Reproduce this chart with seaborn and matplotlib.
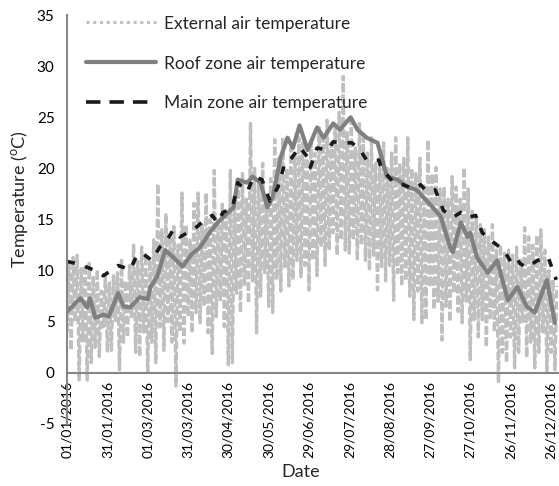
import numpy as np
import pandas as pd
import matplotlib
matplotlib.use('Agg')
import matplotlib.pyplot as plt
import matplotlib.dates as mdates
from matplotlib.lines import Line2D
import seaborn as sns

sns.set_style('white')
plt.rcParams['font.family'] = ['Lato', 'DejaVu Sans']
plt.rcParams['axes.unicode_minus'] = False

# ---- data, day of year 2016 ----
# external air: low / high per 3-day step (day 0, 3, 6, ...)
ext_low = [4.0, 2.2, 5.0, -0.7, 3.0, -0.7, 1.0, 2.5, 1.6, 4.5,
           2.0, 2.2, 5.0, 0.3, 3.0, 3.5, 5.5, 2.0, 1.6, 4.0,
           0.1, 3.0, 1.0, 4.5, 2.2, 5.0, 3.0, -1.3, 4.0, 2.9,
           5.5, 3.9, 5.9, 4.9, 6.5, 3.9, 1.9, 5.5, 7.0, 4.5,
           0.8, 1.0, 7.8, 5.9, 8.5, 6.8, 9.0, 3.9, 7.5, 9.8,
           6.5, 5.9, 9.1, 8.0, 10.4, 8.5, 9.1, 11.0, 9.4, 10.5,
           8.1, 11.0, 9.5, 12.3, 10.5, 12.0, 13.7, 11.5, 13.0, 12.0,
           11.7, 13.0, 11.0, 12.5, 11.0, 10.0, 11.5, 8.1, 10.4, 9.0,
           10.5, 7.1, 9.8, 8.5, 9.0, 7.5, 5.2, 8.0, 4.9, 5.2,
           8.4, 6.2, 7.0, 3.2, 6.5, 5.0, 7.8, 6.0, 4.9, 7.0,
           1.3, 5.2, 3.5, 5.2, 2.5, 5.2, 4.0, -1.0, 2.0, 1.0,
           3.5, 0.5, 2.0, 5.0, 1.5, 3.0, 0.5, 2.0, 4.0, 0.0,
           2.0, 0.3]
ext_high = [10.8, 11.3, 11.5, 10.2, 10.6, 10.7, 9.5, 10.1, 8.0, 9.6,
            8.8, 9.5, 9.8, 11.0, 9.0, 10.5, 12.5, 10.9, 12.3, 11.5,
            11.0, 13.0, 18.5, 14.0, 15.6, 13.5, 14.3, 12.5, 17.6, 14.5,
            13.0, 16.6, 17.6, 14.5, 17.6, 15.0, 19.8, 15.0, 16.5, 15.5,
            19.8, 16.6, 18.0, 19.5, 17.0, 24.4, 20.0, 18.8, 20.5, 17.0,
            19.0, 22.8, 21.0, 23.0, 20.0, 22.0, 21.5, 23.0, 22.5, 21.0,
            22.5, 21.5, 24.0, 23.0, 24.7, 22.5, 24.0, 25.5, 29.0, 23.5,
            24.7, 22.0, 24.4, 23.0, 21.5, 23.0, 20.5, 21.0, 22.5, 20.0,
            21.5, 23.0, 20.5, 21.0, 23.0, 20.0, 19.5, 21.0, 18.5, 22.8,
            19.5, 20.1, 18.0, 18.2, 17.0, 19.2, 18.2, 17.0, 20.1, 18.0,
            16.0, 15.2, 14.5, 14.0, 13.3, 14.5, 12.0, 12.5, 11.7, 12.0,
            11.5, 12.3, 11.0, 14.2, 13.3, 12.5, 13.5, 14.0, 12.0, 10.0,
            9.1, 8.5]

roof_day = [0, 10, 15, 17, 21, 27, 31, 38, 42, 47, 54, 60, 62, 67, 73, 79,
            86, 92, 99, 106, 112, 116, 124, 127, 134, 138, 144, 149, 153,
            159, 164, 168, 173, 179, 186, 191, 198, 203, 211, 216, 223, 231,
            238, 246, 253, 260, 270, 278, 285, 287, 293, 298, 300, 305, 313,
            320, 328, 335, 342, 348, 357, 363]
roof_temp = [6.0, 7.3, 6.4, 7.3, 5.4, 5.7, 5.5, 7.8, 6.5, 6.4, 7.4, 7.2, 8.4,
             9.4, 12.0, 11.3, 10.4, 11.5, 12.3, 13.7, 14.7, 15.2, 16.2, 18.9,
             18.6, 19.2, 18.6, 16.2, 17.2, 21.1, 23.0, 22.0, 24.2, 21.8, 24.0,
             23.0, 24.4, 23.8, 25.0, 23.8, 23.0, 22.5, 19.2, 18.9, 18.2, 17.9,
             16.5, 15.3, 12.3, 11.8, 14.7, 13.3, 13.7, 11.3, 9.8, 11.0, 7.1,
             8.4, 6.5, 5.9, 9.1, 4.9]

main_day = [0, 10, 19, 27, 38, 47, 52, 56, 63, 69, 73, 79, 84, 94, 101, 108,
            112, 116, 123, 127, 134, 139, 145, 151, 157, 162, 167, 173, 179,
            181, 186, 194, 198, 205, 212, 218, 223, 232, 234, 243, 250, 258,
            263, 268, 274, 280, 287, 293, 298, 304, 309, 317, 325, 330, 334,
            337, 342, 350, 358, 364]
main_temp = [10.9, 10.6, 10.1, 9.5, 10.5, 10.1, 11.5, 11.7, 11.0, 12.3, 12.7,
             14.0, 13.3, 14.0, 14.8, 15.4, 14.7, 15.7, 16.1, 18.6, 17.7, 19.2,
             18.9, 16.8, 18.2, 20.5, 21.0, 22.1, 21.1, 20.1, 22.0, 21.8, 22.6,
             22.5, 22.5, 21.8, 20.8, 20.8, 20.0, 18.6, 18.4, 18.0, 18.4, 17.7,
             17.9, 15.9, 15.2, 15.7, 15.2, 15.4, 13.7, 12.8, 12.0, 10.9, 11.3,
             10.7, 10.3, 11.0, 11.3, 9.1]

start = pd.Timestamp('2016-01-01')
ext_day = np.arange(len(ext_low)) * 3.0
ext = pd.DataFrame({
    'date': start + pd.to_timedelta(np.ravel(np.column_stack([ext_day, ext_day + 1.5])), unit='D'),
    'temp': np.ravel(np.column_stack([ext_low, ext_high])),
})
roof = pd.DataFrame({'date': start + pd.to_timedelta(roof_day, unit='D'), 'temp': roof_temp})
main = pd.DataFrame({'date': start + pd.to_timedelta(main_day, unit='D'), 'temp': main_temp})

c_ext, c_roof, c_main = '#bfbfbf', '#808080', '#1a1a1a'

fig = plt.figure(figsize=(5.59, 4.86), dpi=100)
ax = fig.add_axes([0.12, 0.1276, 0.8775, 0.8414])

# hourly round-dot line overlaps itself in Excel -> looks like broken strokes
sns.lineplot(data=ext, x='date', y='temp', ax=ax, color=c_ext, lw=2.4,
             linestyle=(0, (2.5, 0.9)), legend=False)
sns.lineplot(data=roof, x='date', y='temp', ax=ax, color=c_roof, lw=3.0, legend=False)
sns.lineplot(data=main, x='date', y='temp', ax=ax, color=c_main, lw=2.6,
             linestyle=(0, (2.2, 3)), legend=False)

ax.set_ylim(-5, 35)
ax.set_yticks(range(-5, 36, 5))
ax.set_xlim(start, start + pd.Timedelta(days=365))
ax.set_xticks(pd.date_range(start, periods=13, freq='30D'))
ax.xaxis.set_major_formatter(mdates.DateFormatter('%d/%m/%Y'))

ax.spines['bottom'].set_position(('data', 0))
ax.spines['top'].set_visible(False)
ax.spines['right'].set_visible(False)
for s in ('left', 'bottom'):
    ax.spines[s].set_color('#868686')
    ax.spines[s].set_linewidth(1.5)
ax.tick_params(axis='both', direction='out', color='#868686', width=1.5,
               labelcolor='black')
ax.tick_params(axis='x', length=4, pad=2, labelrotation=90, labelsize=10)
ax.tick_params(axis='y', length=5, pad=4, labelsize=11)

ax.set_xlabel('Date', fontsize=13)
ax.set_ylabel(r'Temperature ($\mathregular{^{o}}$C)', fontsize=13)
ax.xaxis.set_label_coords(0.477, -0.098)
ax.yaxis.set_label_coords(-0.076, 0.55)

handles = [
    Line2D([], [], color=c_ext, lw=2.2, linestyle=(0, (1, 1.2))),
    Line2D([], [], color=c_roof, lw=3.0),
    Line2D([], [], color=c_main, lw=2.6, linestyle=(0, (4, 2.5))),
]
labels = ['External air temperature', 'Roof zone air temperature',
          'Main zone air temperature']
ax.legend(handles, labels, loc='upper left', bbox_to_anchor=(0.154, 0.968),
          bbox_transform=fig.transFigure, frameon=False, fontsize=12.5,
          handlelength=4.0, handletextpad=0.5, labelspacing=1.38,
          borderpad=0, borderaxespad=0)

fig.savefig('out.png', dpi=100)
